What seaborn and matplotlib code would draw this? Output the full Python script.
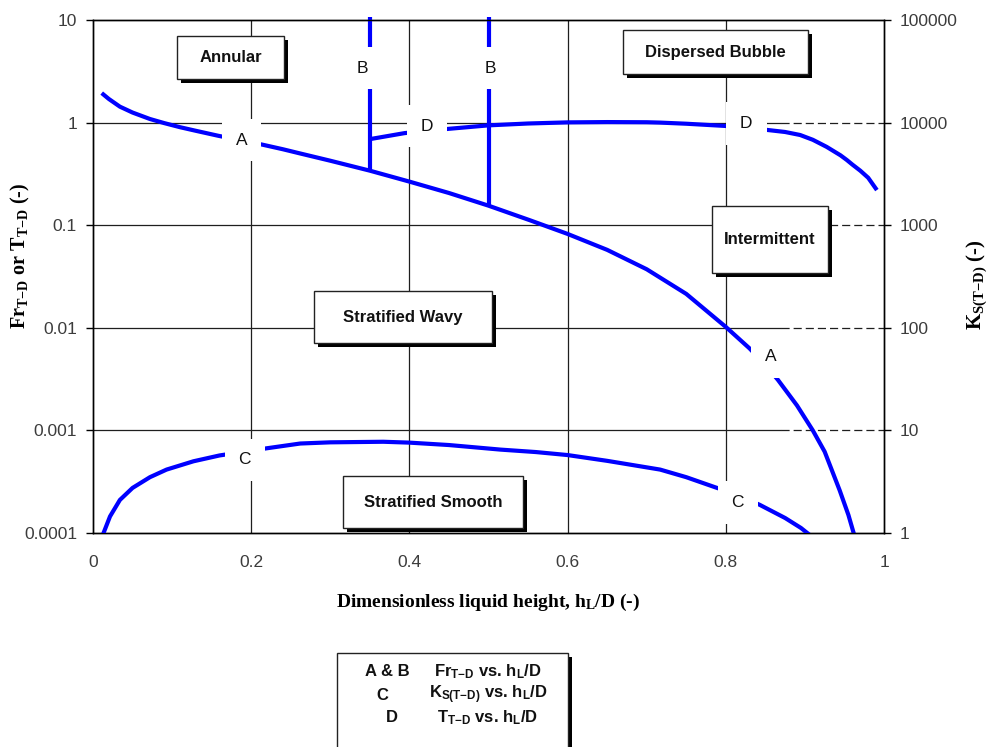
import matplotlib
matplotlib.use("Agg")
import matplotlib.pyplot as plt
import matplotlib.patheffects as pe
from matplotlib.patches import Rectangle
from matplotlib.ticker import FixedLocator, FixedFormatter, NullLocator
import seaborn as sns

sns.set_style("white")
plt.rcParams["font.family"] = ["Liberation Sans", "DejaVu Sans"]
plt.rcParams["mathtext.default"] = "regular"

# Curve A: Froude number boundary Fr_T-D vs h_L/D (left axis)
a_hld = [0.011, 0.02, 0.034, 0.05, 0.072, 0.09, 0.11, 0.13, 0.158, 0.186,
         0.214, 0.24, 0.262, 0.30, 0.35, 0.40, 0.45, 0.50, 0.552, 0.60,
         0.65, 0.70, 0.75, 0.80, 0.83, 0.85, 0.866, 0.89, 0.91, 0.925,
         0.944, 0.955, 0.963]
a_fr = [1.94, 1.70, 1.43, 1.253, 1.084, 0.989, 0.902, 0.832, 0.745, 0.673,
        0.61, 0.55, 0.50, 0.425, 0.340, 0.266, 0.206, 0.155, 0.112, 0.0822,
        0.0575, 0.0372, 0.0214, 0.0102, 0.0063, 0.00437, 0.0031, 0.00175, 0.0010, 0.00062,
        0.00026, 0.00015, 0.000092]

# Curve B: vertical boundaries from the top of the map down to curve A
b_hld = [0.35, 0.50]
b_top = [10.7, 10.7]
b_bottom = [0.340, 0.155]

# Curve C: K_S(T-D) vs h_L/D (right axis)
c_hld = [0.011, 0.0215, 0.034, 0.05, 0.072, 0.093, 0.127, 0.16, 0.22, 0.262,
         0.30, 0.367, 0.40, 0.45, 0.515, 0.56, 0.60, 0.65, 0.717, 0.75,
         0.786, 0.815, 0.843, 0.875, 0.895, 0.912]
c_ks = [0.9, 1.45, 2.1, 2.75, 3.5, 4.15, 5.0, 5.7, 6.7, 7.45,
        7.65, 7.75, 7.6, 7.2, 6.5, 6.15, 5.75, 5.05, 4.15, 3.5,
        2.8, 2.35, 1.88, 1.4, 1.12, 0.88]

# Curve D: T_T-D vs h_L/D (left axis)
d_hld = [0.35, 0.394, 0.45, 0.50, 0.55, 0.60, 0.65, 0.70, 0.717, 0.75,
         0.80, 0.853, 0.875, 0.894, 0.91, 0.9275, 0.945, 0.953, 0.96, 0.97,
         0.98, 0.991]
d_t = [0.69, 0.79, 0.87, 0.94, 0.98, 1.005, 1.012, 1.008, 1.0, 0.975,
       0.927, 0.847, 0.81, 0.757, 0.68, 0.58, 0.48, 0.432, 0.39, 0.34,
       0.29, 0.22]

x_ticks = [0, 0.2, 0.4, 0.6, 0.8, 1]
x_tick_labels = ["0", "0.2", "0.4", "0.6", "0.8", "1"]
left_ticks = [1e-4, 1e-3, 1e-2, 1e-1, 1, 10]
left_tick_labels = ["0.0001", "0.001", "0.01", "0.1", "1", "10"]
right_ticks = [1, 10, 100, 1000, 10000, 100000]
right_tick_labels = ["1", "10", "100", "1000", "10000", "100000"]

region_names = ["Annular", "Dispersed Bubble", "Intermittent",
                "Stratified Wavy", "Stratified Smooth"]

legend_keys = ["A & B", "C", "D"]
legend_texts = ["Fr$_{T{-}D}$ vs. h$_L$/D",
                "K$_{S(T{-}D)}$ vs. h$_L$/D",
                "T$_{T{-}D}$ vs. h$_L$/D"]

BLUE = "#0000ff"
GRID = "#1e1e1e"
TICKC = "#3c3c3c"

fig = plt.figure(figsize=(9.91, 7.47), dpi=100)
W, H = 991, 747
ax = fig.add_axes([93 / W, 1 - 533 / H, 791 / W, 513 / H])
ax.set_yscale("log")
ax.set_xlim(0, 1)
ax.set_ylim(1e-4, 10)

# grid: vertical full-height, horizontal solid then dashed near the right edge
for v in x_ticks[1:-1]:
    ax.axvline(v, color=GRID, lw=0.9, zorder=1)
for v in left_ticks[1:-1]:
    ax.axhline(v, xmin=0, xmax=0.87, color=GRID, lw=0.9, zorder=1)
    ax.axhline(v, xmin=0.87, xmax=1, color=GRID, lw=0.9, ls=(0, (6.5, 3.2)), zorder=1)

line_kw = dict(color=BLUE, linewidth=3.0, sort=False, estimator=None,
               solid_capstyle="butt", solid_joinstyle="round", zorder=4)
sns.lineplot(x=a_hld, y=a_fr, ax=ax, **line_kw)
sns.lineplot(x=d_hld, y=d_t, ax=ax, **line_kw)
for bx, bt, bb in zip(b_hld, b_top, b_bottom):
    sns.lineplot(x=[bx, bx], y=[bt, bb], ax=ax, clip_on=False, **line_kw)

# flow-regime boxes with drop shadow (axes-fraction layout)
region_boxes = [(0.106, 0.885, 0.1355, 0.084),
                (0.670, 0.8947, 0.234, 0.0858),
                (0.7826, 0.5068, 0.1464, 0.1306),
                (0.2794, 0.3704, 0.225, 0.1013),
                (0.316, 0.0097, 0.2276, 0.1014)]
shadow = [pe.SimplePatchShadow(offset=(3, -3), shadow_rgbFace="black", alpha=1.0),
          pe.Normal()]
for name, (x0, y0, w, h) in zip(region_names, region_boxes):
    r = Rectangle((x0, y0), w, h, transform=ax.transAxes, facecolor="white",
                  edgecolor="#222222", lw=1.0, zorder=3, path_effects=shadow)
    ax.add_patch(r)
    ax.text(x0 + w / 2, y0 + h / 2, name, transform=ax.transAxes, ha="center",
            va="center", fontsize=12, fontweight="bold", color="#111111", zorder=3.5)

# curve letters on white patches
lab_kw = dict(ha="center", va="center", fontsize=12.5, color="#111111", zorder=6,
              bbox=dict(boxstyle="square,pad=0.8", fc="white", ec="none"))
ax.text(0.188, 0.676, "A", **lab_kw)
ax.text(0.857, 0.0052, "A", **lab_kw)
ax.text(b_hld[0] - 0.009, 3.4, "B", **lab_kw)
ax.text(b_hld[1] + 0.002, 3.4, "B", **lab_kw)
ax.text(0.422, 0.926, "D", **lab_kw)
ax.text(0.826, 0.987, "D", **lab_kw)

ax.xaxis.set_major_locator(FixedLocator(x_ticks))
ax.xaxis.set_major_formatter(FixedFormatter(x_tick_labels))
ax.yaxis.set_major_locator(FixedLocator(left_ticks))
ax.yaxis.set_major_formatter(FixedFormatter(left_tick_labels))
ax.yaxis.set_minor_locator(NullLocator())
ax.tick_params(axis="y", direction="out", length=5, width=1, pad=6.5,
               labelsize=12.5, labelcolor=TICKC, color="black")
ax.tick_params(axis="x", direction="out", length=5, width=1, pad=11,
               labelsize=12.5, labelcolor=TICKC, color="black")
for s in ax.spines.values():
    s.set_visible(True)
    s.set_color("black")
    s.set_linewidth(1.0)

serif = ["Liberation Serif", "DejaVu Serif"]
ax.set_xlabel("Dimensionless liquid height, h$_L$/D (-)", family=serif,
              fontsize=14, fontweight="bold", color="black")
ax.xaxis.set_label_coords(0.4994, -0.136)
ax.xaxis.label.set_va("center")
ax.set_ylabel("Fr$_{T{-}D}$ or T$_{T{-}D}$ (-)", family=serif, fontsize=14.5,
              fontweight="bold", color="black")
ax.yaxis.set_label_coords(-0.0923, 0.54)
ax.yaxis.label.set_va("center")

# right axis carries curve C
ax2 = ax.twinx()
ax2.set_yscale("log")
ax2.set_ylim(1, 1e5)
sns.lineplot(x=c_hld, y=c_ks, ax=ax2, **line_kw)
ax2.text(0.192, 5.15, "C", **lab_kw)
ax2.text(0.815, 2.0, "C", **lab_kw)
ax2.yaxis.set_major_locator(FixedLocator(right_ticks))
ax2.yaxis.set_major_formatter(FixedFormatter(right_tick_labels))
ax2.yaxis.set_minor_locator(NullLocator())
ax2.tick_params(axis="y", direction="out", length=5, width=1, pad=6.5,
                labelsize=12.5, labelcolor=TICKC, color="black")
for s in ax2.spines.values():
    s.set_color("black")
    s.set_linewidth(1.0)
ax2.set_ylabel("K$_{S(T{-}D)}$ (-)", family=serif, fontsize=15,
               fontweight="bold", color="black")
ax2.yaxis.set_label_coords(1.1176, 0.4834)
ax2.yaxis.label.set_va("center")
ax2.set_xlim(0, 1)

# key box below the chart
key_box = Rectangle((337 / W, -0.02), (568 - 337) / W, (H - 653) / H + 0.02,
                    transform=fig.transFigure, facecolor="white", edgecolor="#222222",
                    lw=1.0, path_effects=shadow, zorder=2)
fig.patches.append(key_box)
key_x = [387, 382, 392]
row_y = [672, 695, 718]
for k, t, kx, ry in zip(legend_keys, legend_texts, key_x, row_y):
    fig.text(kx / W, 1 - ry / H, k, ha="center", va="center", fontsize=12,
             fontweight="bold", color="#111111", zorder=3)
    fig.text(488 / W, 1 - ry / H, t, ha="center", va="center", fontsize=12,
             fontweight="bold", color="#111111", zorder=3)

fig.savefig("out.png", dpi=100, facecolor="white")
